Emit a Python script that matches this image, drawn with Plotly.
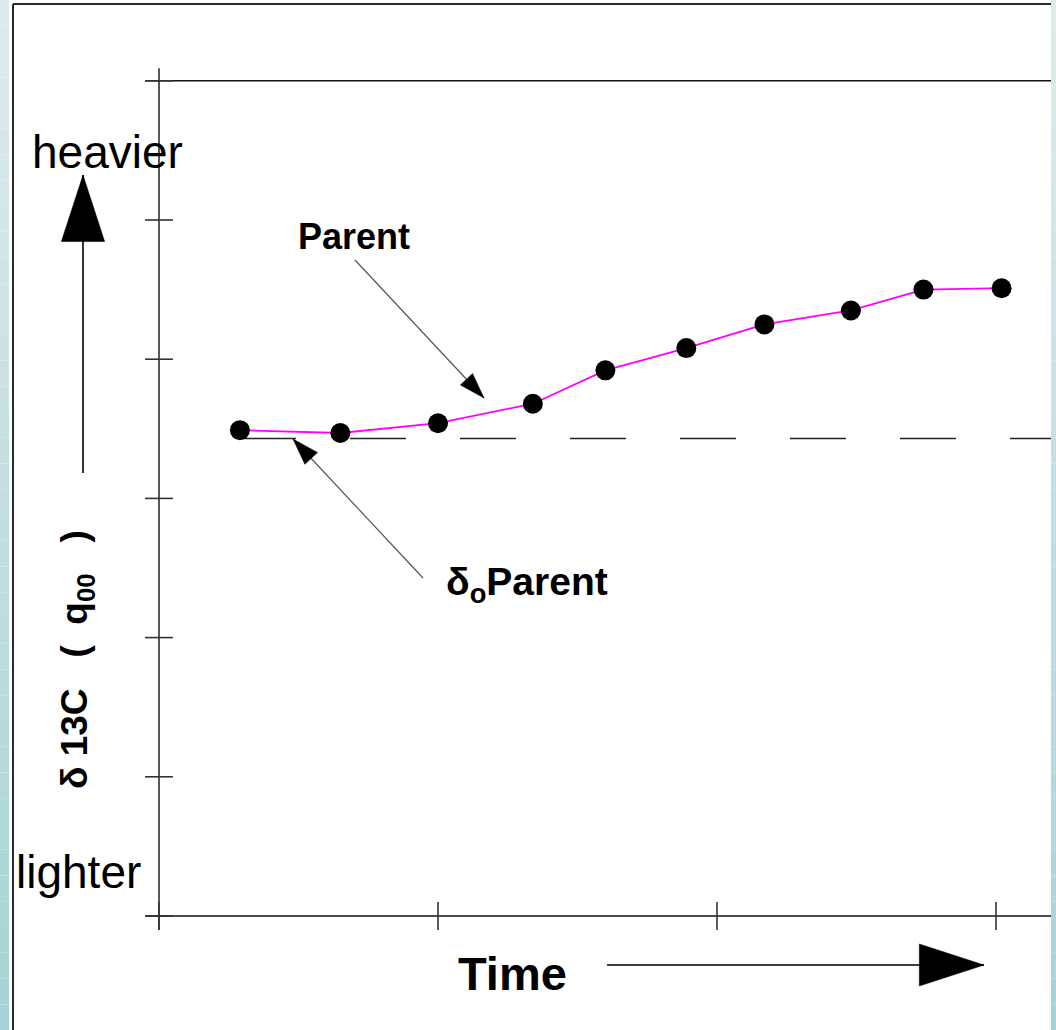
import plotly.graph_objects as go

# ---------------- data ----------------
time = [0.29, 0.65, 1.00, 1.34, 1.60, 1.89, 2.17, 2.48, 2.74, 3.02]
delta13c = [3.49, 3.47, 3.54, 3.68, 3.92, 4.08, 4.25, 4.35, 4.50, 4.51]
delta0_parent = 3.43
x_ticks = [0, 1, 2, 3]
y_ticks = [0, 1, 2, 3, 4, 5, 6]

# ---------------- geometry ----------------
W, H = 1056, 1030
PX0, PX_PER_X = 159, 279.0
PY0, PX_PER_Y = 916, 139.2
xr = [-PX0 / PX_PER_X, (W - PX0) / PX_PER_X]
yr = [(PY0 - H) / PX_PER_Y, PY0 / PX_PER_Y]
X_END = 3.2
TX = 0.05   # half tick length (x units)
TY = 0.10   # half tick length (y units)
FONT = "Liberation Sans, Arial, Helvetica, sans-serif"

fig = go.Figure()

def line_trace(x, y, color, width, dash=None, xaxis="x", yaxis="y"):
    return go.Scatter(x=x, y=y, mode="lines", xaxis=xaxis, yaxis=yaxis,
                      line=dict(color=color, width=width, dash=dash),
                      hoverinfo="skip", showlegend=False, cliponaxis=False)

# axis lines
fig.add_trace(line_trace([0, 0], [y_ticks[0] - TY, y_ticks[-1] + 0.09], "#111", 1.4))
for yv in (y_ticks[0], y_ticks[-1]):
    fig.add_trace(line_trace([-TX, X_END], [yv, yv], "#111", 1.4))

# crossing tick marks
tx, ty = [], []
for t in y_ticks:
    tx += [-TX, TX, None]
    ty += [t, t, None]
for t in x_ticks:
    tx += [t, t, None]
    ty += [-TY, TY, None]
fig.add_trace(line_trace(tx, ty, "#333", 1.6))

# initial parent value (dashed)
fig.add_trace(line_trace([time[0], X_END], [delta0_parent, delta0_parent],
                         "#222", 1.6, dash="56px,54px"))

# parent curve
fig.add_trace(line_trace(time, delta13c, "#ff00ff", 1.8))
fig.add_trace(go.Scatter(x=time, y=delta13c, mode="markers",
                         marker=dict(color="black", size=20, line=dict(width=0)),
                         hoverinfo="skip", showlegend=False, cliponaxis=False))

# ---------------- decorations on a pixel overlay ----------------
def arrow(x, y, size, color="black", width=1.5):
    fig.add_trace(line_trace(x, y, color, width, xaxis="x2", yaxis="y2"))
    fig.add_trace(go.Scatter(
        x=x, y=y, xaxis="x2", yaxis="y2", mode="markers",
        marker=dict(symbol="arrow", size=[0, size], angleref="previous",
                    color="#000000", opacity=1,
                    line=dict(width=0.5, color="#000000")),
        hoverinfo="skip", showlegend=False, cliponaxis=False))

arrow([83, 83], [473, 175], 70, color="black", width=1.6)          # heavier arrow
arrow([607, 984], [965, 965], 68, color="black", width=1.6)        # time arrow
arrow([355, 484], [260, 398], 27, color="#555", width=1.2)         # Parent pointer
arrow([423, 293], [578, 439], 28, color="#555", width=1.2)         # delta0 pointer

sp = "\u00a0"
annotations = [
    dict(text="heavier", x=107, y=152, font=dict(size=46, color="black", family=FONT)),
    dict(text="lighter", x=78, y=872, font=dict(size=46, color="black", family=FONT)),
    dict(text="<b>Parent</b>", x=354, y=236, font=dict(size=36, color="black", family=FONT)),
    dict(text="<b>δ<sub>o</sub>Parent</b>", x=527, y=584, font=dict(size=39, color="black", family=FONT)),
    dict(text="<b>Time</b>", x=512, y=973, font=dict(size=47, color="black", family=FONT)),
    dict(text="<b>δ" + sp + "13C" + sp * 3 + "(" + sp * 2 + "q<sub>00</sub>" + sp * 3 + ")</b>",
         x=77, y=660, textangle=-90,
         font=dict(size=37, color="black", family=FONT)),
]
for a in annotations:
    a.update(xref="x2", yref="y2", showarrow=False, xanchor="center", yanchor="middle")

# ---------------- frame & side strips ----------------
shapes = []
def lerp(c0, c1, f):
    return "rgb(%d,%d,%d)" % tuple(round(a + (b - a) * f) for a, b in zip(c0, c1))

top_c, bot_c = (222, 234, 236), (166, 212, 214)
N = 40
for i in range(N):
    f = i / (N - 1)
    y0 = 1 - i / N
    y1 = 1 - (i + 1) / N
    col = lerp(top_c, bot_c, f)
    for x0, x1 in ((0, 9), (1051, 1056)):
        shapes.append(dict(type="rect", xref="paper", yref="paper",
                           x0=x0 / W, x1=x1 / W, y0=y1, y1=y0,
                           fillcolor=col, line=dict(width=0), layer="above"))
# outer frame
shapes.append(dict(type="line", xref="paper", yref="paper",
                   x0=13 / W, x1=13 / W, y0=0, y1=1 - 4 / H,
                   line=dict(color="#2a2a2a", width=2), layer="above"))
shapes.append(dict(type="line", xref="paper", yref="paper",
                   x0=13 / W, x1=1051 / W, y0=1 - 4 / H, y1=1 - 4 / H,
                   line=dict(color="#2a2a2a", width=2), layer="above"))

fig.update_layout(
    width=W, height=H, autosize=False,
    margin=dict(l=0, r=0, t=0, b=0, pad=0),
    paper_bgcolor="white", plot_bgcolor="white",
    showlegend=False,
    xaxis=dict(range=xr, visible=False, domain=[0, 1], fixedrange=True),
    yaxis=dict(range=yr, visible=False, domain=[0, 1], fixedrange=True),
    xaxis2=dict(range=[0, W], overlaying="x", visible=False, fixedrange=True),
    yaxis2=dict(range=[H, 0], overlaying="y", visible=False, fixedrange=True),
    annotations=annotations,
    shapes=shapes,
)

fig.write_html("out.html", config={"displayModeBar": False},
               post_script="document.body.style.margin='0';document.body.style.overflow='hidden';")
